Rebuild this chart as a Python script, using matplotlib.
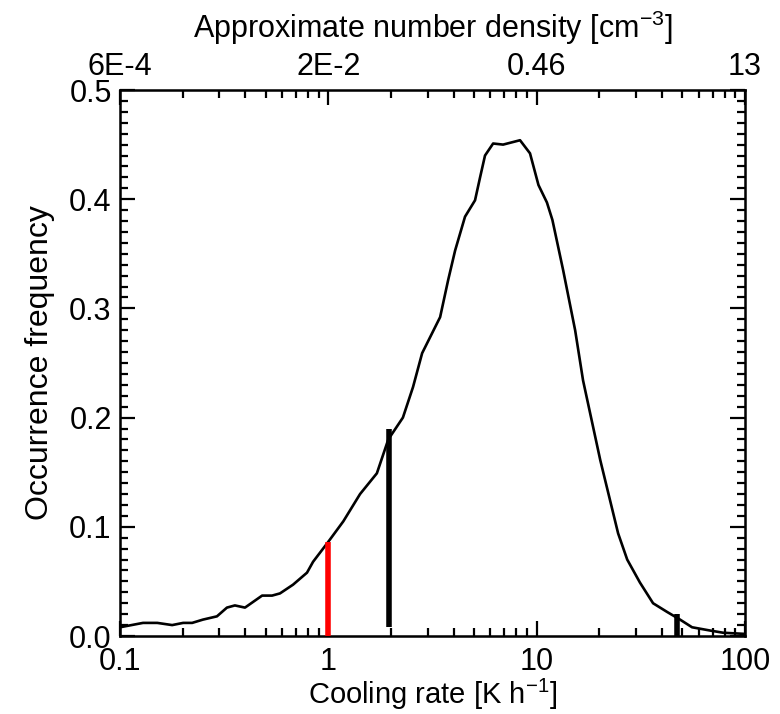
import matplotlib
matplotlib.use("Agg")
import matplotlib.pyplot as plt
import numpy as np
from matplotlib.ticker import FixedLocator, NullFormatter, MultipleLocator

plt.rcParams['font.family'] = ['Liberation Sans', 'DejaVu Sans']
plt.rcParams['mathtext.fontset'] = 'custom'
plt.rcParams['mathtext.rm'] = 'Liberation Sans'
plt.rcParams['mathtext.it'] = 'Liberation Sans'

# Data
cooling_rate = [0.100, 0.129, 0.151, 0.178, 0.201, 0.222, 0.250, 0.292, 0.326, 0.356,
                0.398, 0.481, 0.537, 0.586, 0.677, 0.790, 0.845, 0.997, 1.18, 1.42,
                1.71, 1.94, 2.28, 2.55, 2.82, 3.44, 3.76, 4.06, 4.53, 5.06,
                5.35, 5.65, 6.18, 6.90, 8.32, 9.29, 10.2, 11.2, 11.9, 13.4,
                15.3, 16.7, 20.2, 24.6, 27.2, 31.3, 36.2, 42.3, 48.8, 55.7,
                68.0, 78.5, 98.0]
frequency = [0.008, 0.012, 0.012, 0.010, 0.012, 0.012, 0.015, 0.018, 0.026, 0.028,
             0.026, 0.037, 0.037, 0.039, 0.047, 0.058, 0.068, 0.086, 0.105, 0.130,
             0.149, 0.180, 0.200, 0.228, 0.259, 0.292, 0.326, 0.353, 0.384, 0.399,
             0.420, 0.440, 0.451, 0.450, 0.454, 0.442, 0.413, 0.397, 0.381, 0.335,
             0.280, 0.234, 0.161, 0.094, 0.070, 0.049, 0.030, 0.022, 0.015, 0.008,
             0.005, 0.003, 0.002]

# Threshold markers: (x, ymin, ymax, colour)
marker_x = [1.0, 1.95, 47.0]
marker_ymin = [0.0, 0.008, 0.0]
marker_ymax = [0.086, 0.190, 0.020]
marker_colors = ['#ff0000', '#000000', '#000000']

x_ticks = [0.1, 1, 10, 100]
x_ticklabels = ['0.1', '1', '10', '100']
top_ticklabels = ['6E-4', '2E-2', '0.46', '13']
y_ticks = [0.0, 0.1, 0.2, 0.3, 0.4, 0.5]

fig = plt.figure(figsize=(7.8, 7.14), dpi=100)
ax = fig.add_axes([120/780, 1 - 636/714, (745-120)/780, (636-90)/714])

ax.plot(cooling_rate, frequency, color='black', lw=1.9)
for xv, y0, y1, c in zip(marker_x, marker_ymin, marker_ymax, marker_colors):
    ax.vlines(xv, y0, y1, colors=c, lw=4.0, zorder=3)

ax.set_xscale('log')
ax.set_xlim(0.1, 100)
ax.set_ylim(0, 0.5)
ax.set_xticks(x_ticks)
ax.set_xticklabels(x_ticklabels)
ax.set_yticks(y_ticks)
ax.set_yticklabels([f'{v:.1f}' for v in y_ticks])
ax.yaxis.set_minor_locator(MultipleLocator(0.01))
minor_x = [m * d for d in [0.1, 1, 10] for m in range(2, 10)]
ax.xaxis.set_minor_locator(FixedLocator(minor_x))
ax.xaxis.set_minor_formatter(NullFormatter())

ax.tick_params(which='both', direction='in', width=1.6, right=True, top=False,
               labelsize=22, colors='black')
ax.tick_params(which='major', length=11)
ax.tick_params(axis='x', which='major', pad=8)
ax.tick_params(axis='y', which='major', pad=6)
ax.tick_params(which='minor', length=6)
for s in ax.spines.values():
    s.set_linewidth(1.8)

ax.set_xlabel(r'Cooling rate [K h$^{-1}$]', fontsize=21, labelpad=0)
ax.set_ylabel('Occurrence frequency', fontsize=23, labelpad=10)

ax2 = ax.twiny()
ax2.set_xscale('log')
ax2.set_xlim(0.1, 100)
ax2.set_xticks(x_ticks)
ax2.set_xticklabels(top_ticklabels)
ax2.xaxis.set_minor_locator(FixedLocator(minor_x))
ax2.xaxis.set_minor_formatter(NullFormatter())
ax2.tick_params(which='both', direction='in', width=1.6, labelsize=22)
ax2.tick_params(which='major', length=11, pad=6)
ax2.tick_params(which='minor', length=6)
ax2.set_xlabel(r'Approximate number density [cm$^{-3}$]', fontsize=22, labelpad=10)

fig.savefig('out.png', dpi=100, facecolor='white')
